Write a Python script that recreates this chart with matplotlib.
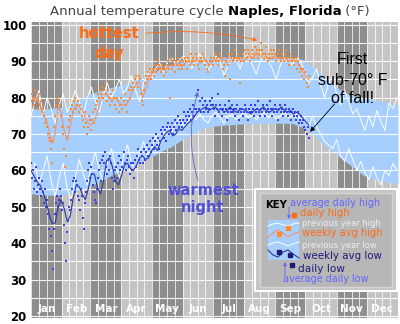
"""Ciclo anual de temperatura em Naples, Florida (graficos estilo WeatherSpark)."""

import matplotlib

matplotlib.use("Agg")
import matplotlib.pyplot as plt
from matplotlib.offsetbox import AnchoredOffsetbox, HPacker, TextArea
from matplotlib.patches import Rectangle

# ---- dados ----
months = ["Jan", "Feb", "Mar", "Apr", "May", "Jun",
          "Jul", "Aug", "Sep", "Oct", "Nov", "Dec"]
month_starts = [0, 31, 59, 90, 120, 151, 181, 212, 243, 273, 304, 334, 365]

# media diaria (faixa azul), dia do ano
avg_day = [0, 10, 20, 30, 40, 50, 60, 70, 80, 90, 100, 110, 120, 130, 140,
           150, 160, 170, 180, 190, 200, 210, 220, 230, 240, 250, 260, 270,
           280, 290, 300, 310, 320, 330, 340, 350, 360, 365]
avg_high = [77.0, 77.0, 77.1, 77.4, 78.4, 79.8, 81.1, 82.0, 82.8, 83.6, 84.4,
            85.6, 86.9, 88.0, 89.0, 89.8, 90.4, 90.8, 91.1, 91.2, 91.2, 91.2,
            91.2, 91.2, 91.2, 91.1, 91.0, 90.5, 88.4, 86.2, 83.8, 81.6, 80.6,
            80.0, 79.5, 78.9, 78.3, 78.0]
avg_low = [53.6, 53.3, 53.2, 53.2, 53.8, 54.8, 55.8, 57.2, 58.7, 59.8, 61.1,
           62.4, 63.8, 65.3, 66.6, 68.4, 70.0, 71.5, 72.1, 72.4, 72.6, 72.8,
           73.0, 73.0, 73.0, 73.0, 72.9, 71.9, 70.0, 67.4, 65.3, 63.0, 61.0,
           58.8, 57.6, 57.0, 56.6, 56.5]

# maximas diarias (a partir de 1 de janeiro)
daily_high = [
    79, 81, 80, 78, 82, 79, 80, 77, 81, 78,
    79, 76, 77, 75, 73, 74, 72, 70, 69, 68,
    66, 62, 68, 72, 75, 78, 80, 79, 77, 78,
    75, 72, 70, 66, 61, 64, 69, 72, 74, 75,
    77, 78, 76, 79, 80, 77, 78, 79, 76, 78,
    77, 75, 74, 72, 76, 73, 70, 72, 75, 74,
    71, 74, 76, 73, 77, 78, 79, 81, 80, 82,
    81, 83, 80, 82, 84, 81, 79, 82, 80, 78,
    81, 79, 82, 80, 78, 77, 80, 79, 76, 78,
    80, 77, 79, 81, 78, 76, 79, 82, 80, 83,
    82, 84, 83, 85, 86, 84, 83, 86, 85, 81,
    79, 78, 82, 84, 86, 85, 87, 86, 88, 85,
    87, 88, 86, 89, 87, 88, 90, 89, 88, 87,
    89, 88, 86, 88, 87, 89, 90, 88, 80, 91,
    88, 90, 89, 87, 90, 89, 91, 88, 90, 89,
    88, 90, 89, 91, 90, 88, 91, 90, 89, 92,
    90, 91, 89, 90, 92, 91, 89, 88, 90, 91,
    90, 92, 91, 89, 90, 88, 87, 89, 90, 91,
    90, 89, 91, 92, 90, 91, 89, 90, 92, 91,
    90, 88, 89, 86, 90, 91, 89, 92, 85, 91,
    92, 90, 91, 93, 91, 90, 92, 91, 84, 90,
    91, 92, 90, 93, 92, 91, 93, 92, 90, 91,
    93, 92, 91, 94, 92, 93, 91, 92, 93, 95,
    93, 92, 91, 92, 94, 91, 90, 92, 91, 93,
    92, 91, 93, 92, 90, 91, 92, 93, 91, 90,
    92, 91, 90, 92, 93, 91, 90, 89, 91, 92,
    90, 91, 89, 90, 91, 88, 90, 89, 87, 88,
    86, 88, 85, 87, 84, 83, 86,
]

# minimas diarias
daily_low = [
    62, 58, 60, 55, 57, 61, 54, 56, 58, 55,
    53, 57, 54, 51, 55, 50, 52, 48, 44, 47,
    42, 38, 33, 44, 48, 51, 53, 50, 52, 55,
    53, 49, 51, 45, 40, 35, 43, 46, 50, 49,
    52, 55, 57, 58, 54, 57, 56, 53, 52, 49,
    55, 53, 47, 44, 51, 54, 57, 60, 62, 58,
    61, 59, 56, 54, 52, 51, 55, 58, 60, 62,
    57, 63, 64, 62, 65, 61, 59, 63, 60, 64,
    62, 58, 55, 57, 60, 61, 58, 62, 64, 60,
    63, 61, 65, 62, 60, 63, 64, 61, 59, 62,
    60, 62, 58, 63, 61, 64, 66, 63, 62, 65,
    64, 62, 66, 63, 65, 67, 64, 66, 68, 65,
    67, 69, 66, 68, 70, 67, 69, 66, 68, 71,
    70, 72, 69, 71, 68, 72, 73, 70, 72, 71,
    73, 70, 72, 74, 71, 73, 75, 72, 74, 73,
    72, 74, 76, 73, 75, 74, 76, 75, 77, 74,
    76, 78, 75, 77, 77, 76, 82, 77, 79, 76,
    80, 78, 76, 79, 77, 78, 76, 77, 79, 78,
    80, 78, 77, 75, 78, 77, 81, 76, 78, 77,
    75, 77, 76, 78, 77, 74, 76, 79, 77, 76,
    78, 76, 77, 75, 77, 78, 76, 74, 77, 76,
    77, 75, 76, 78, 77, 76, 74, 77, 76, 78,
    76, 77, 75, 78, 76, 77, 79, 76, 75, 77,
    76, 78, 77, 75, 76, 78, 77, 76, 79, 77,
    75, 77, 76, 78, 77, 76, 74, 77, 78, 76,
    77, 75, 76, 78, 77, 76, 75, 77, 76, 74,
    76, 77, 75, 76, 74, 75, 76, 73, 74, 75,
    73, 74, 72, 71, 70, 72, 69,
]

# medias semanais (um ponto a cada 3 dias)
week_high = [
    79, 80, 79.5, 78, 76, 74, 71, 67.5, 70, 77.5,
    76, 71, 68.3, 72, 76.5, 78, 77.5, 76.5, 74.5, 73,
    72.5, 73.5, 76, 79, 81, 81, 80, 79.5, 80, 79,
    78, 78, 78.5, 80.5, 82.5, 84, 84.5, 80, 82, 85,
    86.5, 87, 88, 88.5, 87.5, 88, 89, 88.5, 89.5, 89,
    88.5, 89.5, 90, 89.5, 90, 90.5, 89.5, 90, 90.5, 89,
    89.5, 90.5, 90, 91, 90.5, 89.5, 90, 90.5, 91, 90.5,
    90, 91, 91.5, 91, 91.5, 92, 91.5, 91, 91.5, 90.5,
    91, 91.5, 91, 90.5, 91, 90.5, 90, 90.5, 90, 89,
    87.5, 86, 85,
]
week_low = [
    60, 58.5, 57, 56, 54, 51.5, 48, 45.5, 45.5, 50,
    52, 49.5, 46, 47.5, 52.5, 56, 55.5, 53.5, 52, 55,
    59, 59, 55.5, 53.5, 57, 62.5, 63.5, 61, 57, 56,
    58.5, 61.5, 62, 60.5, 60, 61.5, 63.5, 64, 63, 63.5,
    65.5, 66.5, 65.5, 68, 69.5, 70.5, 71, 69.5, 70, 71.5,
    71, 72, 73, 73.5, 74.5, 76, 76.5, 77, 77.5, 76.5,
    77, 77.5, 76.5, 77, 76, 76.5, 77.5, 76.5, 76, 76.5,
    77, 76.5, 76, 75.5, 76.5, 77, 76.5, 77.5, 76.5, 76,
    76.5, 77, 76.5, 77.5, 76.5, 76, 76.5, 75.5, 76, 75.5,
    74.5, 73.5, 72.5,
]

# ano anterior (um ponto a cada 4 dias)
prev_high = [
    75, 79, 82, 75.5, 80, 77, 73, 78, 81, 76,
    78.5, 82, 79, 75, 80, 83, 79, 76, 81, 84,
    80, 82.5, 85, 81, 83, 86, 82, 79, 84, 87,
    85, 88, 89.5, 87, 90, 91, 89, 90.5, 91.5, 90,
    88, 90.5, 92, 90, 87.5, 89, 91.5, 90, 86, 89,
    91, 90.5, 88, 91, 92, 89, 86.5, 90, 91.5, 90,
    88, 85, 89, 91, 90.5, 89, 91, 90, 87, 84,
    85.5, 88, 83.5, 80, 84, 86, 81, 78, 82, 79,
    75.5, 77, 74, 71, 75, 72, 76.5, 73.5, 71, 78.5,
    77, 80,
]
prev_low = [
    58, 62, 56, 60, 64, 57, 53, 58, 62, 55,
    52, 58, 63, 59, 56, 61, 65, 60, 57, 62,
    66, 61, 58, 64, 67, 62, 60, 65, 68, 64,
    66, 69.5, 67, 70, 72, 70.5, 73, 74.5, 72, 73.5,
    75, 74, 75.5, 74, 73, 75, 76, 74.5, 73, 75,
    75.5, 74, 75, 76, 74.5, 75.5, 74, 75, 76, 74.5,
    75.5, 74, 75, 76, 74.5, 75, 75.5, 74, 74.5, 72,
    75, 72, 70, 68, 67, 66, 68.5, 64, 62.5, 66,
    63, 60, 62.5, 59.5, 57.5, 61, 58, 56, 60, 58.5,
    62, 60,
]

# pequenas curvas da legenda (coordenadas em pixels da caixa KEY)
key_x = [14, 19, 24, 29, 34, 39, 45]
key_prev_high = [38, 36, 35, 37, 38, 36, 35]
key_week_high = [49, 45, 42, 45, 49, 46, 44]
key_prev_low = [57, 55, 54, 56, 58, 56, 54]
key_week_low = [62, 67, 69, 64, 62, 66, 70]

DARK = "#8e8e8e"
LIGHT = "#c4c4c4"
BAND = "#a6cfff"
ORANGE = "#ff8a2b"
ORANGE_TXT = "#ff6a14"
BLUE_DOT = "#3c3cf0"
NAVY = "#2b3a96"
PURPLE = "#5050d8"


def main() -> None:
    fig = plt.figure(figsize=(4, 3.24), dpi=100)
    ax = fig.add_axes([31 / 400, 1 - 318 / 324, 367 / 400, 296 / 324])
    ax.set_xlim(0, 365)
    ax.set_ylim(19.45, 100.8)

    # fundo: meses alternados e linhas verticais
    for i in range(12):
        a, b = month_starts[i], month_starts[i + 1]
        ax.axvspan(a, b, color=DARK if i % 2 == 0 else LIGHT, lw=0, zorder=0)
        for k in range(4):
            ax.axvline(a + k * (b - a) / 4, color="white", lw=0.7, alpha=0.75,
                       zorder=1)

    ax.fill_between(avg_day, avg_low, avg_high, color=BAND, lw=0, zorder=2)
    for t in range(20, 101, 5):
        ax.axhline(t, color="white", lw=0.8, alpha=0.9, zorder=3)

    prev_days = [4 * i for i in range(len(prev_high))]
    week_days = [3 * i for i in range(len(week_high))]
    days = list(range(len(daily_high)))

    ax.plot(prev_days, prev_high, color="white", lw=0.7, zorder=4)
    ax.plot(prev_days, prev_low, color="white", lw=0.7, zorder=4)
    ax.plot(week_days, week_high, color="#f4906c", lw=0.8, zorder=5)
    ax.plot(week_days, week_low, color=NAVY, lw=0.8, zorder=5)
    ax.scatter(days, daily_high, s=3, marker="s", color=ORANGE, lw=0, zorder=6)
    ax.scatter(range(len(daily_low)), daily_low, s=3, marker="s",
               color=BLUE_DOT, lw=0, zorder=6)

    # rotulos dos meses
    for i, name in enumerate(months):
        mid = (month_starts[i] + month_starts[i + 1]) / 2
        ax.text(mid, 21.9, name, color="white", fontweight="bold", fontsize=7.5,
                ha="center", va="center", zorder=7)

    ax.set_xticks([])
    ax.set_yticks(range(20, 101, 10))
    ax.set_yticklabels([str(v) for v in range(20, 101, 10)],
                       fontweight="bold", fontsize=8.5)
    ax.tick_params(axis="y", length=0, pad=3)
    for s in ax.spines.values():
        s.set_visible(False)

    # anotacoes
    ax.text(78, 97.6, "hottest", color=ORANGE_TXT, fontweight="bold",
            fontsize=10.5, ha="center", va="center", zorder=8)
    ax.text(78, 92.1, "day", color=ORANGE_TXT, fontweight="bold",
            fontsize=10.5, ha="center", va="center", zorder=8)
    ax.annotate("", xy=(225, 95.8), xytext=(114, 97.7), zorder=8,
                arrowprops=dict(arrowstyle="-|>", color=ORANGE_TXT, lw=0.6,
                                mutation_scale=6, shrinkA=0, shrinkB=0,
                                connectionstyle="arc3,rad=-0.08"))

    ax.text(171, 54.6, "warmest", color=PURPLE, fontweight="bold",
            fontsize=10.5, ha="center", va="center", zorder=8)
    ax.text(171, 49.7, "night", color=PURPLE, fontweight="bold",
            fontsize=10.5, ha="center", va="center", zorder=8)
    ax.annotate("", xy=(166, 81.6), xytext=(166, 57.3), zorder=8,
                arrowprops=dict(arrowstyle="-|>", color="#6060d0", lw=0.6,
                                mutation_scale=6, shrinkA=0, shrinkB=0,
                                connectionstyle="arc3,rad=-0.15"))

    for txt, ty in [("First", 90.6), ("sub-70° F", 84.8), ("of fall!", 79.9)]:
        ax.text(320, ty, txt, color="black", fontsize=11.5,
                family="Liberation Sans", ha="center", va="center", zorder=8)
    ax.annotate("", xy=(277.5, 70.6), xytext=(302, 78.3), zorder=8,
                arrowprops=dict(arrowstyle="-|>", color="black", lw=0.6,
                                mutation_scale=7, shrinkA=0, shrinkB=0))

    # titulo com partes em negrito
    parts = [
        TextArea("Annual temperature cycle ",
                 textprops=dict(color="#444444", size=9.5)),
        TextArea("Naples, Florida",
                 textprops=dict(color="black", size=9.5, weight="bold")),
        TextArea(" (°F)", textprops=dict(color="#444444", size=9.5)),
    ]
    title = AnchoredOffsetbox(
        loc="center", child=HPacker(children=parts, align="baseline", pad=0, sep=0),
        pad=0, borderpad=0, frameon=False,
        bbox_to_anchor=(210 / 400, 1 - 11 / 324), bbox_transform=fig.transFigure)
    fig.add_artist(title)

    # caixa KEY, em pixels
    kax = fig.add_axes([254 / 400, 1 - 292 / 324, 144 / 400, 104 / 324])
    kax.set_zorder(5)
    kax.set_xlim(0, 144)
    kax.set_ylim(104, 0)
    kax.axis("off")
    kax.add_patch(Rectangle((0.8, 0.8), 142.4, 102.4, facecolor="#c6c6c6",
                            edgecolor="white", lw=1.5))
    kax.add_patch(Rectangle((6, 5), 132, 94, facecolor="#b7b7b7",
                            edgecolor="#d6d6d6", lw=1))
    kax.add_patch(Rectangle((14, 32), 31, 40, facecolor=BAND, lw=0))
    kax.plot(key_x, key_prev_high, color="white", lw=0.7)
    kax.plot(key_x, key_week_high, color="#f4906c", lw=0.8)
    kax.plot(key_x, key_prev_low, color="white", lw=0.7)
    kax.plot(key_x, key_week_low, color=NAVY, lw=0.8)
    kax.plot([25.3, 33.5], [45.7, 39.5], "s", color=ORANGE, ms=2.2, ls="none")
    kax.plot([24.7, 35.8], [64.2, 67.3], "s", color="#1c1c78", ms=2.4, ls="none")
    kax.plot([40], [27], "s", color=ORANGE_TXT, ms=2.6)
    kax.plot([38], [76.5], "s", color="#1c1c78", ms=2.6)
    kax.annotate("", xy=(35, 31), xytext=(35, 19),
                 arrowprops=dict(arrowstyle="-|>", color="#6464ff", lw=0.6,
                                 mutation_scale=5, shrinkA=0, shrinkB=0))
    kax.annotate("", xy=(31, 74), xytext=(31, 87),
                 arrowprops=dict(arrowstyle="-|>", color="#6464ff", lw=0.6,
                                 mutation_scale=5, shrinkA=0, shrinkB=0))

    kax.text(11, 17, "KEY", fontweight="bold", fontsize=7.3, color="black",
             va="center")
    key_texts = [
        (36, 14.5, "average daily high", "#6464ff", 6.9),
        (46, 25.5, "daily high", ORANGE_TXT, 7.3),
        (48, 36, "previous year high", "#eeeeee", 6.0),
        (48, 45.5, "weekly avg high", ORANGE_TXT, 7.1),
        (48, 57.5, "previous year low", "#eeeeee", 6.0),
        (49, 68, "weekly avg low", "#1c1c78", 7.4),
        (44, 81, "daily low", "#1c1c78", 7.6),
        (29, 91.5, "average daily low", "#6464ff", 6.9),
    ]
    for x, y, txt, col, size in key_texts:
        kax.text(x, y, txt, color=col, fontsize=size, va="center")

    fig.savefig("out.png", dpi=100)
    plt.close(fig)


if __name__ == "__main__":
    main()
